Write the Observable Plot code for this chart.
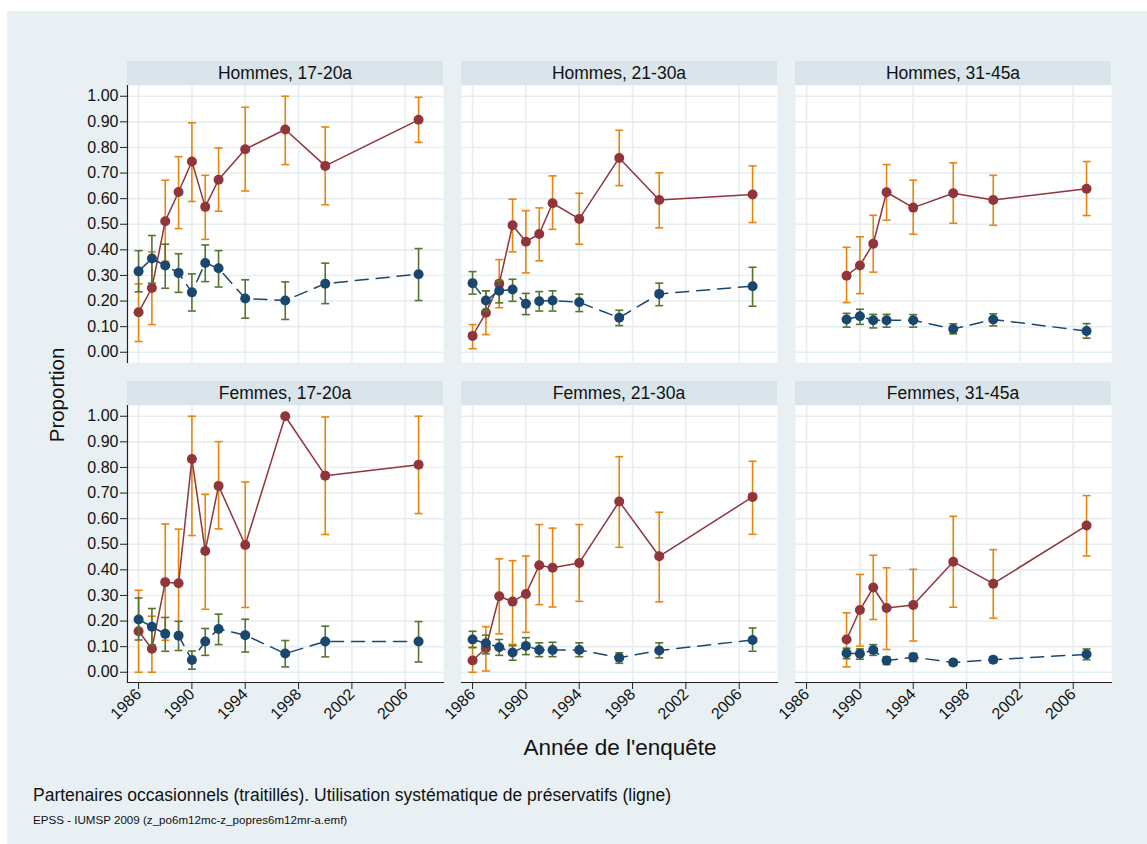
<!DOCTYPE html>
<html>
<head>
<meta charset="utf-8">
<script src="https://cdn.jsdelivr.net/npm/d3@7"></script>
<script src="https://cdn.jsdelivr.net/npm/@observablehq/plot@0.6"></script>
<style>
  html, body { margin: 0; padding: 0; background: #ffffff; }
  #root { position: relative; width: 1147px; height: 844px; overflow: hidden; font-family: "Liberation Sans", Arial, sans-serif; color: #111; }
  #bg { position: absolute; left: 7px; top: 11px; width: 1140px; height: 833px; background: #e8f0f3; }
  .strip { position: absolute; background: #d9e5eb; text-align: center; font-size: 17.5px; line-height: 24px; height: 24px; color: #111; }
  .panel { position: absolute; }
  .txt { position: absolute; white-space: nowrap; color: #111; line-height: 1; }
</style>
</head>
<body>
<div id="root"><div id="bg"></div></div>
<script>
// ---------- data ----------
const sexes = ["Hommes", "Femmes"];
const ages = ["17-20a", "21-30a", "31-45a"];
const xTicks = [1986, 1990, 1994, 1998, 2002, 2006];
const yTicks = [0, 0.1, 0.2, 0.3, 0.4, 0.5, 0.6, 0.7, 0.8, 0.9, 1.0];

const yearsYoung = [1986, 1987, 1988, 1989, 1990, 1991, 1992, 1994, 1997, 2000, 2007];
const yearsOld = [1989, 1990, 1991, 1992, 1994, 1997, 2000, 2007];

// Hommes 17-20a
const condH1 = [0.156, 0.251, 0.512, 0.626, 0.745, 0.568, 0.674, 0.793, 0.870, 0.728, 0.908];
const condH1Lo = [0.042, 0.108, 0.355, 0.483, 0.589, 0.441, 0.551, 0.630, 0.733, 0.576, 0.820];
const condH1Hi = [0.267, 0.392, 0.672, 0.764, 0.896, 0.691, 0.798, 0.957, 1.000, 0.880, 0.996];
const partH1 = [0.316, 0.366, 0.339, 0.310, 0.234, 0.349, 0.328, 0.210, 0.202, 0.268, 0.305];
const partH1Lo = [0.236, 0.270, 0.250, 0.234, 0.161, 0.276, 0.255, 0.133, 0.128, 0.190, 0.202];
const partH1Hi = [0.397, 0.456, 0.422, 0.385, 0.306, 0.419, 0.397, 0.283, 0.275, 0.348, 0.405];

// Hommes 21-30a
const condH2 = [0.064, 0.154, 0.268, 0.496, 0.432, 0.462, 0.582, 0.521, 0.759, 0.595, 0.616];
const condH2Lo = [0.014, 0.069, 0.174, 0.392, 0.310, 0.357, 0.480, 0.422, 0.651, 0.486, 0.507];
const condH2Hi = [0.108, 0.240, 0.362, 0.598, 0.553, 0.564, 0.689, 0.621, 0.867, 0.701, 0.728];
const partH2 = [0.270, 0.202, 0.240, 0.245, 0.189, 0.199, 0.202, 0.195, 0.135, 0.228, 0.258];
const partH2Lo = [0.227, 0.163, 0.193, 0.199, 0.147, 0.161, 0.161, 0.159, 0.104, 0.182, 0.180];
const partH2Hi = [0.315, 0.240, 0.280, 0.285, 0.230, 0.237, 0.240, 0.227, 0.164, 0.270, 0.332];

// Hommes 31-45a
const condH3 = [0.299, 0.339, 0.424, 0.625, 0.565, 0.621, 0.595, 0.639];
const condH3Lo = [0.194, 0.229, 0.313, 0.516, 0.461, 0.504, 0.496, 0.534];
const condH3Hi = [0.410, 0.451, 0.535, 0.733, 0.672, 0.740, 0.691, 0.745];
const partH3 = [0.128, 0.141, 0.125, 0.125, 0.125, 0.091, 0.128, 0.083];
const partH3Lo = [0.098, 0.109, 0.095, 0.098, 0.098, 0.072, 0.103, 0.055];
const partH3Hi = [0.152, 0.168, 0.148, 0.148, 0.147, 0.111, 0.150, 0.112];

// Femmes 17-20a
const condF1 = [0.160, 0.092, 0.352, 0.348, 0.833, 0.474, 0.728, 0.497, 1.000, 0.768, 0.811];
const condF1Lo = [0.000, 0.000, 0.125, 0.141, 0.534, 0.246, 0.560, 0.253, 1.000, 0.538, 0.620];
const condF1Hi = [0.320, 0.219, 0.579, 0.559, 1.000, 0.695, 0.901, 0.743, 1.000, 0.997, 1.000];
const partF1 = [0.206, 0.178, 0.150, 0.143, 0.048, 0.120, 0.169, 0.145, 0.073, 0.120, 0.120];
const partF1Lo = [0.126, 0.107, 0.082, 0.085, 0.012, 0.066, 0.108, 0.079, 0.021, 0.060, 0.040];
const partF1Hi = [0.290, 0.249, 0.214, 0.199, 0.083, 0.171, 0.227, 0.207, 0.124, 0.180, 0.198];

// Femmes 21-30a
const condF2 = [0.046, 0.094, 0.297, 0.276, 0.306, 0.418, 0.408, 0.427, 0.667, 0.453, 0.685];
const condF2Lo = [0.000, 0.005, 0.150, 0.109, 0.156, 0.264, 0.255, 0.277, 0.488, 0.275, 0.539];
const condF2Hi = [0.098, 0.178, 0.443, 0.436, 0.454, 0.577, 0.563, 0.577, 0.842, 0.625, 0.824];
const partF2 = [0.128, 0.113, 0.098, 0.077, 0.103, 0.087, 0.087, 0.087, 0.057, 0.085, 0.126];
const partF2Lo = [0.096, 0.072, 0.066, 0.047, 0.069, 0.061, 0.061, 0.061, 0.035, 0.056, 0.082];
const partF2Hi = [0.160, 0.145, 0.128, 0.104, 0.135, 0.115, 0.117, 0.115, 0.076, 0.115, 0.173];

// Femmes 31-45a
const condF3 = [0.128, 0.243, 0.331, 0.251, 0.263, 0.432, 0.346, 0.573];
const condF3Lo = [0.021, 0.102, 0.206, 0.089, 0.122, 0.254, 0.211, 0.454];
const condF3Hi = [0.232, 0.382, 0.457, 0.408, 0.402, 0.609, 0.479, 0.690];
const partF3 = [0.074, 0.072, 0.087, 0.046, 0.059, 0.038, 0.049, 0.070];
const partF3Lo = [0.053, 0.051, 0.066, 0.030, 0.042, 0.026, 0.038, 0.049];
const partF3Hi = [0.094, 0.091, 0.108, 0.060, 0.074, 0.049, 0.061, 0.091];

const xLabel = "Année de l'enquête";
const yLabel = "Proportion";
const note1 = "Partenaires occasionnels (traitillés). Utilisation systématique de préservatifs (ligne)";
const note2 = "EPSS - IUMSP 2009 (z_po6m12mc-z_popres6m12mr-a.emf)";

// ---------- build ----------
const panelSeries = [
  [yearsYoung, condH1, condH1Lo, condH1Hi, partH1, partH1Lo, partH1Hi],
  [yearsYoung, condH2, condH2Lo, condH2Hi, partH2, partH2Lo, partH2Hi],
  [yearsOld, condH3, condH3Lo, condH3Hi, partH3, partH3Lo, partH3Hi],
  [yearsYoung, condF1, condF1Lo, condF1Hi, partF1, partF1Lo, partF1Hi],
  [yearsYoung, condF2, condF2Lo, condF2Hi, partF2, partF2Lo, partF2Hi],
  [yearsOld, condF3, condF3Lo, condF3Hi, partF3, partF3Lo, partF3Hi]
];

const RED = "#90353b", ORANGE = "#e8850c", NAVY = "#1a476f", GREEN = "#55752f";
const GRID = "#e6eef1";
const capSymbol = {
  draw(ctx, size) {
    const r = Math.sqrt(size / Math.PI);
    ctx.moveTo(-r, 0);
    ctx.lineTo(r, 0);
  }
};

const root = document.getElementById("root");
const colLeft = [127, 461, 795];
const plotW = 316, plotH = 277;
const stripTop = [61, 381];
const plotTop = [85, 405];
const mL = 70, mR = 12, mT = 12;

function addText(text, style) {
  const d = document.createElement("div");
  d.className = "txt";
  d.textContent = text;
  Object.assign(d.style, style);
  root.appendChild(d);
  return d;
}

for (let r = 0; r < 2; r++) {
  for (let c = 0; c < 3; c++) {
    const [yrs, cond, condLo, condHi, part, partLo, partHi] = panelSeries[r * 3 + c];
    const condData = yrs.map((y, i) => ({year: y, v: cond[i], lo: condLo[i], hi: condHi[i]}));
    const partData = yrs.map((y, i) => ({year: y, v: part[i], lo: partLo[i], hi: partHi[i]}));

    const strip = document.createElement("div");
    strip.className = "strip";
    strip.textContent = sexes[r] + ", " + ages[c];
    Object.assign(strip.style, {left: colLeft[c] + "px", top: stripTop[r] + "px", width: plotW + "px"});
    root.appendChild(strip);

    const mB = r === 1 ? 62 : 12;
    const marks = [
      Plot.frame({fill: "white", stroke: null}),
      Plot.gridY(yTicks, {stroke: GRID, strokeOpacity: 1, strokeWidth: 1.6}),
      Plot.gridX(xTicks, {stroke: GRID, strokeOpacity: 1, strokeWidth: 1.6}),
      // condom use: CI, line, dots
      Plot.ruleX(condData, {x: "year", y1: "lo", y2: "hi", stroke: ORANGE, strokeWidth: 1.6}),
      Plot.dot(condData, {x: "year", y: "lo", symbol: capSymbol, r: 4, stroke: ORANGE, strokeWidth: 1.6, fill: "none"}),
      Plot.dot(condData, {x: "year", y: "hi", symbol: capSymbol, r: 4, stroke: ORANGE, strokeWidth: 1.6, fill: "none"}),
      Plot.line(condData, {x: "year", y: "v", stroke: RED, strokeWidth: 1.5}),
      Plot.dot(condData, {x: "year", y: "v", r: 5, fill: RED, stroke: null}),
      // occasional partners: CI, dashed line, dots
      Plot.ruleX(partData, {x: "year", y1: "lo", y2: "hi", stroke: GREEN, strokeWidth: 1.6}),
      Plot.dot(partData, {x: "year", y: "lo", symbol: capSymbol, r: 4, stroke: GREEN, strokeWidth: 1.6, fill: "none"}),
      Plot.dot(partData, {x: "year", y: "hi", symbol: capSymbol, r: 4, stroke: GREEN, strokeWidth: 1.6, fill: "none"}),
      Plot.line(partData, {x: "year", y: "v", stroke: NAVY, strokeWidth: 1.5, strokeDasharray: "13,8"}),
      Plot.dot(partData, {x: "year", y: "v", r: 5, fill: NAVY, stroke: null})
    ];
    if (c === 0) {
      marks.push(Plot.axisY(yTicks, {tickFormat: d3.format(".2f"), tickSize: 7, tickPadding: 2, fontSize: 16, stroke: "#222", fill: "#111", label: null}));
      marks.push(Plot.frame({anchor: "left", stroke: "#222", strokeWidth: 1.2}));
    }
    if (r === 1) {
      marks.push(Plot.axisX(xTicks, {tickFormat: d3.format("d"), tickRotate: -45, tickSize: 7, tickPadding: 2, fontSize: 16, stroke: "#222", fill: "#111", label: null}));
      marks.push(Plot.frame({anchor: "bottom", stroke: "#222", strokeWidth: 1.2}));
    }

    const chart = Plot.plot({
      width: mL + plotW + mR,
      height: mT + plotH + mB,
      marginLeft: mL, marginRight: mR, marginTop: mT, marginBottom: mB,
      x: {domain: [1985.17, 2008.87], axis: null},
      y: {domain: [-0.04, 1.042], axis: null},
      style: {background: "transparent", fontFamily: "'Liberation Sans', Arial, sans-serif", overflow: "visible"},
      marks
    });
    const wrap = document.createElement("div");
    wrap.className = "panel";
    Object.assign(wrap.style, {left: (colLeft[c] - mL) + "px", top: (plotTop[r] - mT) + "px"});
    wrap.appendChild(chart);
    root.appendChild(wrap);
  }
}

// axis titles and notes
addText(yLabel, {fontSize: "20.5px", left: "57px", top: "395px", transform: "translate(-50%, -50%) rotate(-90deg)"});
addText(xLabel, {fontSize: "22.5px", left: "620px", top: "748px", transform: "translate(-50%, -50%)"});
addText(note1, {fontSize: "17.5px", left: "33px", top: "787px"});
addText(note2, {fontSize: "11.6px", left: "33px", top: "814px"});
</script>
</body>
</html>
